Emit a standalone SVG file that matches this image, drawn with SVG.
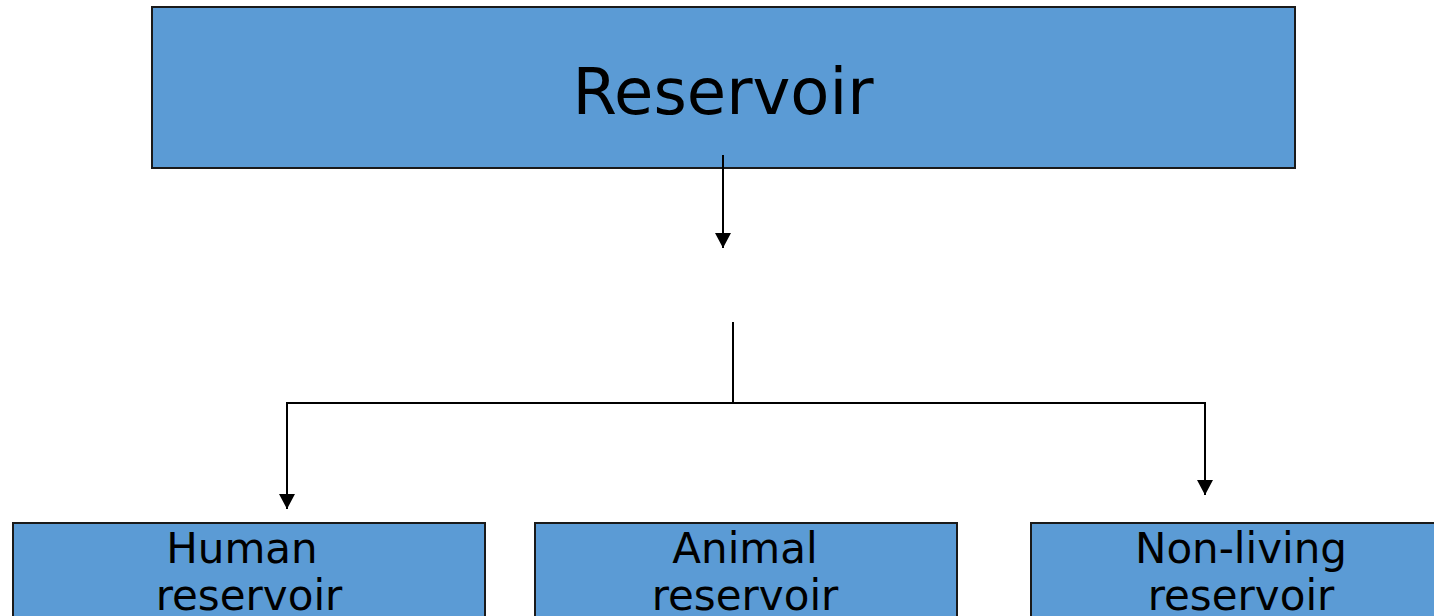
<svg xmlns="http://www.w3.org/2000/svg" width="1434" height="616" viewBox="0 0 1434 616">
<style>
.box{fill:#5B9BD5;stroke:#1a1a1a;stroke-width:2}
.t{font-family:"DejaVu Sans","Verdana",sans-serif;fill:#000;text-anchor:middle}
.c{stroke:#000;stroke-width:2;fill:none}
</style>
<defs>
<marker id="ah" markerWidth="16" markerHeight="16" refX="15" refY="8" orient="auto" markerUnits="userSpaceOnUse">
<path d="M0,0 L15,8 L0,16 Z" fill="#000"/>
</marker>
</defs>
<rect width="1434" height="616" fill="#fff"/>
<g id="reservoir">
<rect class="box" x="152" y="7" width="1143" height="161"/>
<text class="t" x="723" y="114" font-size="64">Reservoir</text>
</g>
<g id="human">
<rect class="box" x="13" y="523" width="472" height="110"/>
<text class="t" x="242" y="563" font-size="42">Human</text>
<text class="t" x="249" y="610" font-size="42">reservoir</text>
</g>
<g id="animal">
<rect class="box" x="535" y="523" width="422" height="110"/>
<text class="t" x="745" y="563" font-size="42">Animal</text>
<text class="t" x="745" y="610" font-size="42">reservoir</text>
</g>
<g id="nonliving">
<rect class="box" x="1031" y="523" width="420" height="110"/>
<text class="t" x="1241" y="563" font-size="42">Non-living</text>
<text class="t" x="1241" y="610" font-size="42">reservoir</text>
</g>
<g id="connectors">
<line class="c" x1="723" y1="155" x2="723" y2="248" marker-end="url(#ah)"/>
<line class="c" x1="733" y1="322" x2="733" y2="403"/>
<line class="c" x1="286" y1="403" x2="1206" y2="403"/>
<line class="c" x1="287" y1="403" x2="287" y2="509" marker-end="url(#ah)"/>
<line class="c" x1="1205" y1="403" x2="1205" y2="495" marker-end="url(#ah)"/>
</g>
</svg>
